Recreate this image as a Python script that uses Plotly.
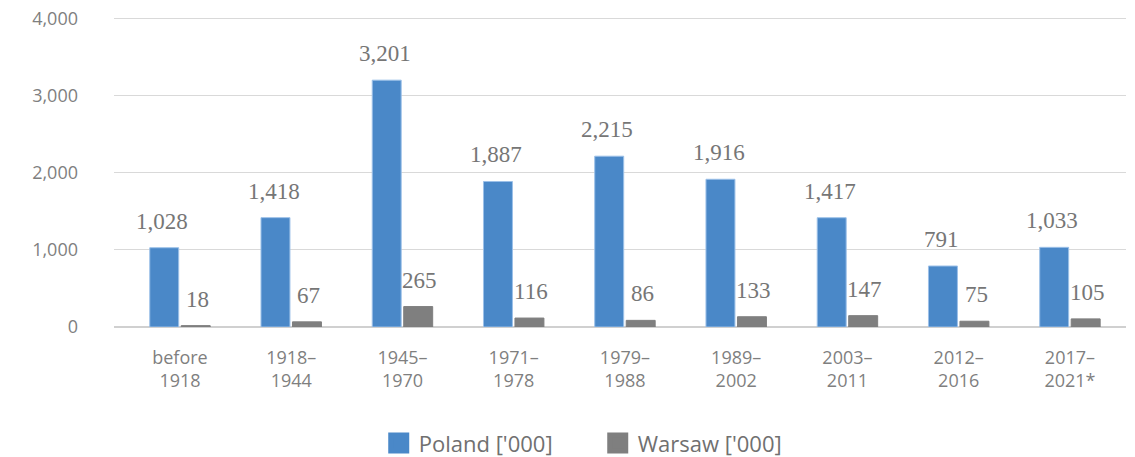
import plotly.graph_objects as go

categories = ["before<br>1918", "1918–<br>1944", "1945–<br>1970", "1971–<br>1978", "1979–<br>1988",
              "1989–<br>2002", "2003–<br>2011", "2012–<br>2016", "2017–<br>2021*"]
poland = [1028, 1418, 3201, 1887, 2215, 1916, 1417, 791, 1033]
warsaw = [18, 67, 265, 116, 86, 133, 147, 75, 105]
series_names = ["Poland ['000]", "Warsaw ['000]"]
colors = ["#4a88c8", "#7f7f7f"]
edge_colors = ["#9cc0e8", "#7f7f7f"]
y_ticks = [0, 1000, 2000, 3000, 4000]

label_font = dict(family="Liberation Serif, DejaVu Serif, serif", size=23, color="#767676")
x_pos = list(range(len(categories)))
shifts = [-17.5, 17.5]

fig = go.Figure()
for name, vals, col, ecol, sh in zip(series_names, [poland, warsaw], colors, edge_colors, shifts):
    fig.add_trace(go.Bar(
        x=x_pos, y=vals, name=name, marker_color=col,
        marker_line=dict(color=ecol, width=1), showlegend=False,
    ))
    fig.add_trace(go.Scatter(
        x=[None], y=[None], mode="markers", name=name,
        marker=dict(symbol="square", size=16, color=col, line=dict(color=col, width=5)),
    ))
    for xi, v in zip(x_pos, vals):
        fig.add_annotation(x=xi, y=v, xref="x", yref="y", text=f"{v:,}", showarrow=False,
                           xshift=sh, yshift=12, yanchor="bottom", xanchor="center",
                           font=label_font)

# page body has an 8px margin; margins below compensate for it
fig.update_layout(
    width=1135, height=457,
    margin=dict(l=106, r=17, t=9, b=138, autoexpand=False),
    paper_bgcolor="white", plot_bgcolor="white",
    barmode="group", bargap=0.434, bargroupgap=0.08,
    font=dict(family="Open Sans, Noto Sans, sans-serif", size=18, color="#7f7f7f"),
    legend=dict(orientation="h", x=0.478, xanchor="center", y=-0.375, yanchor="middle",
                font=dict(size=22, color="#707070"), itemwidth=30, tracegroupgap=0,
                entrywidth=174),
)
fig.update_xaxes(
    tickmode="array", tickvals=x_pos, ticktext=categories,
    range=[-0.593, 8.504], showgrid=False, showline=False, zeroline=False,
    tickfont=dict(size=18, color="#7f7f7f"), ticks="", ticklabelstandoff=18, automargin=False,
)
fig.update_yaxes(
    range=[0, 4020], tickvals=y_ticks, tickformat=",", showgrid=True,
    gridcolor="#d9d9d9", gridwidth=1.3, zeroline=True, zerolinecolor="#d0d0d0", zerolinewidth=1.5,
    tickfont=dict(size=18, color="#7f7f7f"), ticklabelstandoff=35, automargin=False,
    ticklabeloverflow="allow",
)

fig.write_html("out.html")
